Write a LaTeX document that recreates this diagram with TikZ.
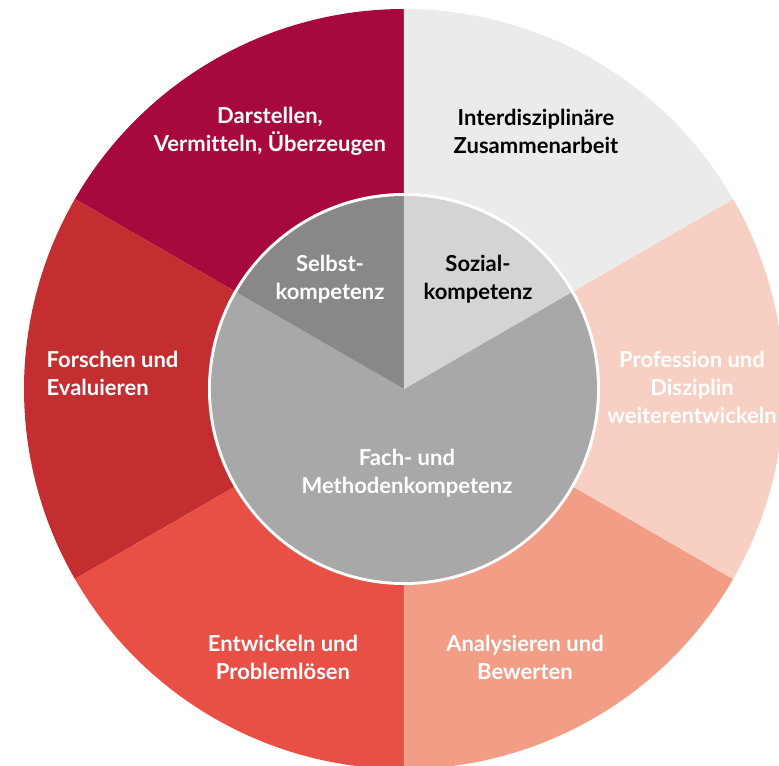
\documentclass[tikz,border=0pt]{standalone}
\usepackage{fontspec}
\setmainfont{Lato}[Ligatures=NoCommon]
\usepackage{tikz}

\definecolor{crimson}{HTML}{A8093C}
\definecolor{brick}{HTML}{C42E31}
\definecolor{coral}{HTML}{E84F45}
\definecolor{salmon}{HTML}{F29D86}
\definecolor{blush}{HTML}{F8D0C3}
\definecolor{mist}{HTML}{EBEBEB}
\definecolor{selbstgray}{HTML}{888888}
\definecolor{sozialgray}{HTML}{D4D4D4}
\definecolor{fachgray}{HTML}{A8A8A8}

\tikzset{
    lbl/.style={align=center, text=white, font=\fontsize{16.5}{21}\selectfont\bfseries},
}

\begin{document}
\begin{tikzpicture}[x=0.75pt,y=0.75pt]
    \useasboundingbox (-404,-376) rectangle (375,389);
    % outer ring, six sectors of 60 degrees
    \foreach \a/\c in {90/crimson,150/brick,210/coral,270/salmon,330/blush,30/mist}
        \fill[\c] (0,0) -- (\a:380) arc (\a:\a+60:380) -- cycle;
    % inner disc with white rim
    \fill[white] (0,0) circle (196);
    \fill[fachgray] (0,0) -- (150:193) arc (150:390:193) -- cycle;
    \fill[selbstgray] (0,0) -- (90:193) arc (90:150:193) -- cycle;
    \fill[sozialgray] (0,0) -- (30:193) arc (30:90:193) -- cycle;

    \node[lbl] (darstellen) at (-134,258) {Darstellen,\\Vermitteln, Überzeugen};
    \node[lbl, text=black] (inter) at (132,258) {Interdisziplinäre\\Zusammenarbeit};
    \node[lbl, align=left, anchor=west] (forschen) at (-362,16) {Forschen und\\Evaluieren};
    \node[lbl] (profession) at (288,2) {Profession und\\Disziplin\\weiterentwickeln};
    \node[lbl] (entwickeln) at (-121,-268) {Entwickeln und\\Problemlösen};
    \node[lbl] (analysieren) at (121,-268) {Analysieren und\\Bewerten};
    \node[lbl] (selbst) at (-74,110) {Selbst-\\kompetenz};
    \node[lbl, text=black] (sozial) at (74,110) {Sozial-\\kompetenz};
    \node[lbl] (fach) at (3,-84) {Fach- und\\Methodenkompetenz};
\end{tikzpicture}
\end{document}
